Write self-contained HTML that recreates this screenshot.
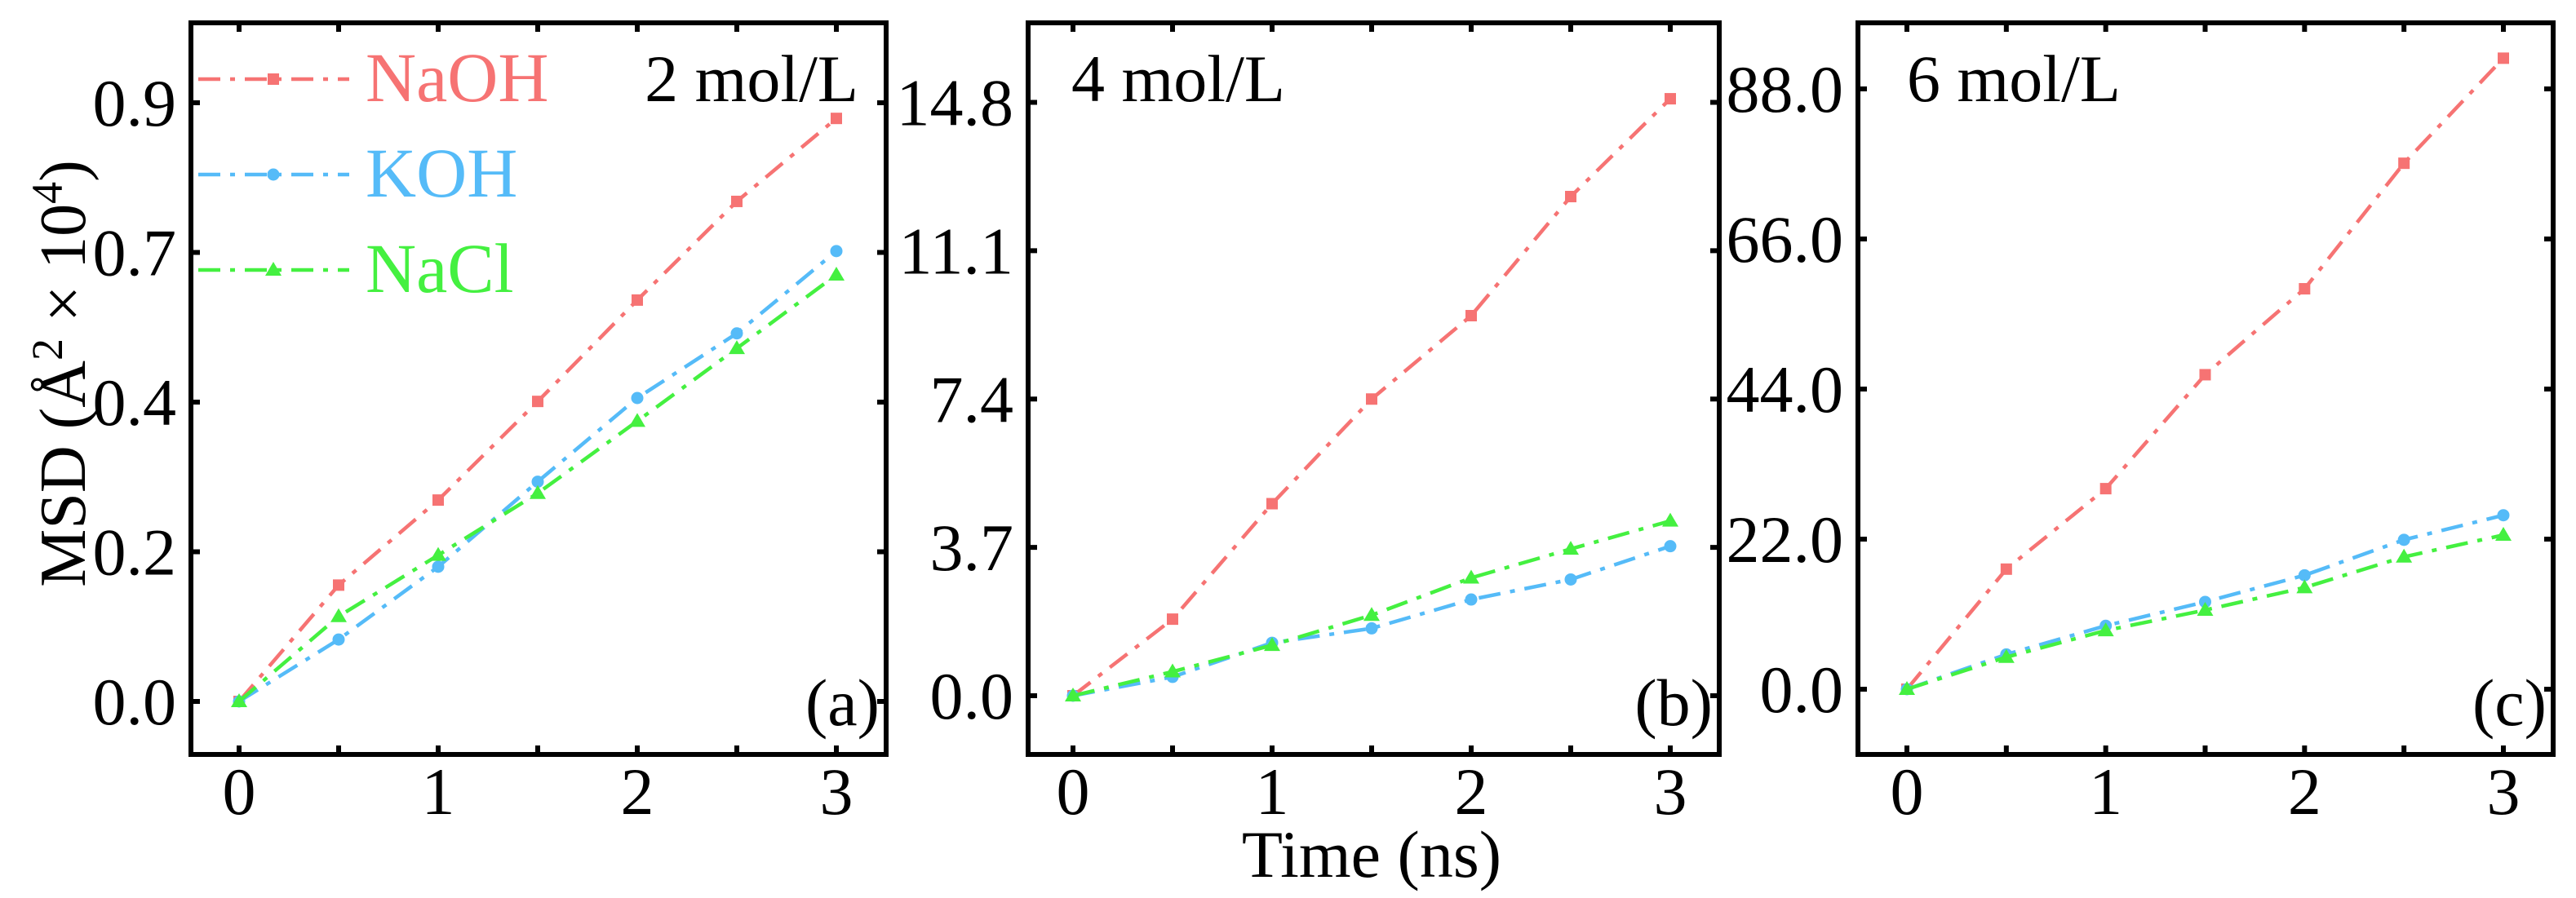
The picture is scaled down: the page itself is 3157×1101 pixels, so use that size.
<!DOCTYPE html>
<html><head><meta charset="utf-8"><style>
html,body{margin:0;padding:0;background:#fff;}
svg{display:block;font-family:"Liberation Serif","DejaVu Serif",serif;}
</style></head><body>
<svg id="chart" width="3157" height="1101" viewBox="0 0 3157 1101" xmlns="http://www.w3.org/2000/svg"></svg>
<script>
const times = [0, 0.5, 1, 1.5, 2, 2.5, 3];
const xTicks = [0, 1, 2, 3];
const seriesNames = ["NaOH", "KOH", "NaCl"];
const naoh2 = [0, 0.171, 0.296, 0.441, 0.590, 0.735, 0.857];
const koh2 = [0, 0.091, 0.198, 0.323, 0.446, 0.541, 0.662];
const nacl2 = [0, 0.125, 0.215, 0.306, 0.412, 0.519, 0.627];
const naoh4 = [0, 1.91, 4.79, 7.40, 9.48, 12.45, 14.89];
const koh4 = [0, 0.47, 1.32, 1.68, 2.40, 2.90, 3.73];
const nacl4 = [0, 0.60, 1.26, 2.01, 2.94, 3.66, 4.36];
const naoh6 = [0, 17.6, 29.4, 46.1, 58.7, 77.1, 92.5];
const koh6 = [0, 5.1, 9.3, 12.8, 16.7, 21.9, 25.5];
const nacl6 = [0, 4.7, 8.6, 11.6, 14.9, 19.4, 22.6];
const yTicks2 = [0, 0.22, 0.44, 0.66, 0.88];
const yLabels2 = ["0.0", "0.2", "0.4", "0.7", "0.9"];
const yTicks4 = [0, 3.7, 7.4, 11.1, 14.8];
const yLabels4 = ["0.0", "3.7", "7.4", "11.1", "14.8"];
const yTicks6 = [0, 22, 44, 66, 88];
const yLabels6 = ["0.0", "22.0", "44.0", "66.0", "88.0"];

const colors = ["#F67373", "#55BBF8", "#44F040"];
const NS = "http://www.w3.org/2000/svg";
const svg = document.getElementById("chart");
function mk(tag, attrs, parent) {
  const e = document.createElementNS(NS, tag);
  for (const k in attrs) e.setAttribute(k, attrs[k]);
  (parent || svg).appendChild(e);
  return e;
}
const DASH = "27 12 6 12";

function marker(g, kind, x, y, col) {
  let m;
  if (kind === 0) m = mk("rect", {x: x - 7, y: y - 7, width: 14, height: 14, fill: col}, g);
  else if (kind === 1) m = mk("circle", {cx: x, cy: y, r: 7.5, fill: col}, g);
  else m = mk("polygon", {points: `${x},${y - 10} ${x + 10},${y + 7} ${x - 10},${y + 7}`, fill: col}, g);
  return m;
}

const panels = [
  {id: "a", left: 234, right: 1086, x0: 293, x3: 1025, y0: 860, yTopVal: 0.88, yTopPx: 126, ticks: yTicks2, labels: yLabels2, data: [naoh2, koh2, nacl2], conc: "2 mol/L", concX: 1052, concAnchor: "end", tag: "(a)"},
  {id: "b", left: 1260, right: 2107, x0: 1315, x3: 2047, y0: 853, yTopVal: 14.8, yTopPx: 125.5, ticks: yTicks4, labels: yLabels4, data: [naoh4, koh4, nacl4], conc: "4 mol/L", concX: 1313, concAnchor: "start", tag: "(b)"},
  {id: "c", left: 2277, right: 3129, x0: 2337, x3: 3068, y0: 845, yTopVal: 88, yTopPx: 109, ticks: yTicks6, labels: yLabels6, data: [naoh6, koh6, nacl6], conc: "6 mol/L", concX: 2337, concAnchor: "start", tag: "(c)"}
];
const TOP = 28, BOTTOM = 925;

panels.forEach(p => {
  const g = mk("g", {});
  
  
  const xs = v => p.x0 + (p.x3 - p.x0) * v / 3;
  const ys = v => p.y0 - (p.y0 - p.yTopPx) * v / p.yTopVal;
  p.data.forEach((arr, si) => {
    const sg = mk("g", {}, g);
    
    
    const pts = arr.map((v, i) => xs(times[i]) + "," + ys(v)).join(" ");
    mk("polyline", {points: pts, fill: "none", stroke: colors[si], "stroke-width": 4.5, "stroke-dasharray": DASH}, sg);
    arr.forEach((v, i) => {
      const m = marker(sg, si, xs(times[i]), ys(v), colors[si]);
      
      
    });
  });
  const fr = mk("rect", {x: p.left, y: TOP, width: p.right - p.left, height: BOTTOM - TOP, fill: "none", stroke: "#000", "stroke-width": 6}, g);
  
  
  for (let t = 0; t <= 3; t += 0.5) {
    const x = xs(t);
    mk("line", {x1: x, x2: x, y1: BOTTOM, y2: BOTTOM - 11, stroke: "#000", "stroke-width": 6}, g);
    mk("line", {x1: x, x2: x, y1: TOP, y2: TOP + 11, stroke: "#000", "stroke-width": 6}, g);
  }
  xTicks.forEach(t => {
    const tl = mk("text", {x: xs(t), y: 998, "font-size": 82, "text-anchor": "middle", fill: "#000"}, g);
    tl.textContent = t;
    
    
  });
  p.ticks.forEach((t, i) => {
    const y = ys(t);
    mk("line", {x1: p.left, x2: p.left + 11, y1: y, y2: y, stroke: "#000", "stroke-width": 6}, g);
    mk("line", {x1: p.right, x2: p.right - 11, y1: y, y2: y, stroke: "#000", "stroke-width": 6}, g);
    const tl = mk("text", {x: p.left - 18, y: y + 28, "font-size": 82, "text-anchor": "end", fill: "#000"}, g);
    tl.textContent = p.labels[i];
    
    
  });
  const ct = mk("text", {x: p.concX, y: 124, "font-size": 82, "text-anchor": p.concAnchor, fill: "#000"}, g);
  ct.textContent = p.conc;
  
  
  const pt = mk("text", {x: p.right - 8, y: 889, "font-size": 82, "text-anchor": "end", fill: "#000"}, g);
  pt.textContent = p.tag;
  
  
});

const legY = [97, 214, 331];
seriesNames.forEach((n, i) => {
  const lg = mk("g", {});
  
  
  mk("line", {x1: 243, x2: 428, y1: legY[i], y2: legY[i], stroke: colors[i], "stroke-width": 4.5, "stroke-dasharray": DASH}, lg);
  marker(lg, i, 335, legY[i], colors[i]);
  const t = mk("text", {x: 448, y: legY[i] + 27, "font-size": 86, fill: colors[i]}, lg);
  t.textContent = n;
});

const xt = mk("text", {x: 1681, y: 1075, "font-size": 82, "text-anchor": "middle", fill: "#000"});
xt.textContent = "Time (ns)";


const yt = mk("text", {x: 0, y: 0, "font-size": 80, "text-anchor": "middle", fill: "#000", transform: "translate(104,458) rotate(-90)"});
yt.innerHTML = 'MSD (Å<tspan dy="-28" font-size="54">2</tspan><tspan dy="28"> × 10</tspan><tspan dy="-28" font-size="54">4</tspan><tspan dy="28">)</tspan>';


</script>
</body></html>
